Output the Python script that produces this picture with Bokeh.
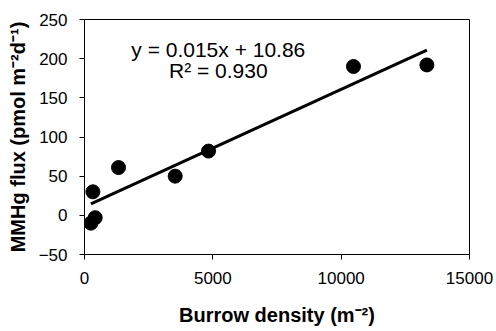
from bokeh.plotting import figure
from bokeh.models import Range1d, Label
from bokeh.embed import file_html
from bokeh.resources import INLINE

# Data
burrow_density = [249, 327, 417, 1325, 3533, 4832, 10480, 13340]
mmhg_flux = [-10, 30, -3, 61, 50, 82, 190, 192]
slope = 0.015
intercept = 10.86
eq_text = "y = 0.015x + 10.86"
r2_text = "R\u00b2 = 0.930"
x_ticks = [0, 5000, 10000, 15000]
y_ticks = [-50, 0, 50, 100, 150, 200, 250]

FONT = "Liberation Sans"

p = figure(width=496, height=331, output_backend="svg", toolbar_location=None,
           x_range=Range1d(0, 15000), y_range=Range1d(-50, 250),
           min_border_left=84, min_border_right=27, min_border_top=19, min_border_bottom=77)

p.xgrid.visible = False
p.ygrid.visible = False
p.outline_line_color = "black"
p.outline_line_width = 1
p.background_fill_color = "white"
p.border_fill_color = "white"

for ax in (p.xaxis[0], p.yaxis[0]):
    ax.major_tick_out = 5
    ax.major_tick_in = 0
    ax.minor_tick_out = 0
    ax.minor_tick_in = 0
    ax.axis_line_color = "black"
    ax.major_tick_line_color = "black"
    ax.major_label_text_font = FONT
    ax.major_label_text_font_size = "17px"
    ax.major_label_text_color = "black"
    ax.axis_label_text_font = FONT
    ax.axis_label_text_font_style = "bold"
    ax.axis_label_text_font_size = "20px"
    ax.axis_label_text_color = "black"

p.xaxis.ticker = x_ticks
p.yaxis.ticker = y_ticks
p.xaxis.axis_label = "Burrow density (m\u207b\u00b2)"
p.yaxis.axis_label = "MMHg flux (pmol m\u207b\u00b2d\u207b\u00b9)"
p.xaxis.major_label_standoff = 12
p.yaxis.major_label_standoff = 12
p.xaxis.axis_label_standoff = 17
p.yaxis.axis_label_standoff = 7

# Trend line
x0 = min(burrow_density)
x1 = max(burrow_density)
p.line([x0, x1], [slope * x0 + intercept, slope * x1 + intercept],
       line_color="black", line_width=3)

p.scatter(burrow_density, mmhg_flux, size=14, fill_color="black", line_color="black")

p.add_layout(Label(x=5213, y=212.3, text=eq_text, text_align="center",
                   text_baseline="alphabetic", text_font=FONT,
                   text_font_size="21px", text_color="black"))
p.add_layout(Label(x=5213, y=184.3, text=r2_text, text_align="center",
                   text_baseline="alphabetic", text_font=FONT,
                   text_font_size="21px", text_color="black"))

open("out.html", "w").write(file_html(p, INLINE))
